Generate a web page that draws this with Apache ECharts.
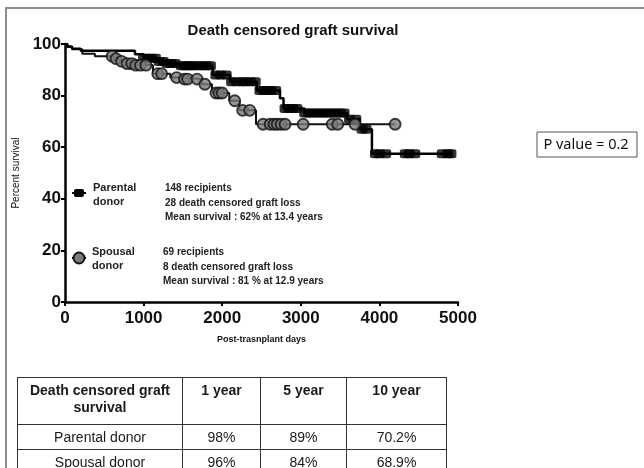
<!DOCTYPE html>
<html>
<head>
<meta charset="utf-8">
<script src="https://cdn.jsdelivr.net/npm/echarts@6/dist/echarts.min.js"></script>
<style>
    html, body { margin: 0; padding: 0; background: #fff; overflow: hidden; }
    #frame { position: absolute; left: 5px; top: 7px; width: 700px; height: 600px;
        border-left: 2px solid #8c8c8c; border-top: 2px solid #8c8c8c; }
    #chart { position: absolute; left: 0; top: 0; width: 644px; height: 468px; }
    #tbl { position: absolute; left: 17px; top: 377px; border-collapse: collapse;
        font-family: "Liberation Sans", Arial, sans-serif; font-size: 14px; color: #1a1a1a; }
    #tbl td, #tbl th { border: 1.5px solid #333; text-align: center; padding: 0; }
    #tbl th { font-weight: bold; height: 42px; vertical-align: top; padding-top: 4px; line-height: 17px; }
    #tbl td { height: 24px; }
</style>
</head>
<body>
<div id="frame"></div>
<div id="chart"></div>
<table id="tbl"></table>
<script>
// Kaplan-Meier steps (days, percent)
var parentalDays = [0, 30, 90, 200, 890, 1000, 1180, 1300, 1470, 1880, 2100, 2440, 2735, 2780, 3050, 3590, 3750, 3905, 4924];
var parentalSurv = [100, 99.0, 98.2, 97.4, 96.0, 94.5, 93.2, 92.4, 91.6, 88.0, 85.4, 82.0, 79.0, 75.0, 73.3, 70.8, 67.0, 57.5, 57.5];
var parentalCensor = [1000, 1050, 1100, 1150, 1200, 1250, 1300, 1350, 1400, 1480, 1520, 1560, 1600, 1640, 1700, 1750, 1800, 1850,
    1920, 1980, 2050, 2120, 2180, 2250, 2300, 2360, 2420, 2480, 2530, 2580, 2620, 2680, 2800, 2850, 2900, 2950, 3050, 3100,
    3150, 3200, 3250, 3300, 3350, 3400, 3450, 3500, 3550, 3620, 3700, 3780, 3830, 3950, 4000, 4080, 4330, 4380, 4450, 4800, 4870, 4910];

var spousalDays = [0, 30, 90, 220, 380, 620, 700, 780, 900, 1120, 1340, 1480, 1740, 1870, 2090, 2220, 2430, 4200];
var spousalSurv = [100, 98.8, 98.0, 96.2, 95.3, 94.3, 93.3, 92.4, 91.8, 88.5, 87.0, 86.4, 84.4, 81.0, 78.0, 74.3, 68.9, 68.9];
var spousalCensor = [600, 650, 720, 790, 850, 900, 960, 1030, 1180, 1230, 1420, 1520, 1560, 1680, 1780, 1920, 1960, 2000,
    2160, 2260, 2350, 2520, 2610, 2660, 2700, 2750, 2800, 3030, 3400, 3470, 3690, 4200];

var tableHeader = ["Death censored graft<br>survival", "1 year", "5 year", "10 year"];
var tableRows = [
    ["Parental donor", "98%", "89%", "70.2%"],
    ["Spousal donor", "96%", "84%", "68.9%"]
];

function pairs(xs, ys) {
    var out = [];
    for (var i = 0; i < xs.length; i++) out.push([xs[i], ys[i]]);
    return out;
}
// survival level of a step curve at time t
function survAt(xs, ys, t) {
    var v = ys[0];
    for (var i = 0; i < xs.length; i++) if (xs[i] <= t) v = ys[i];
    return v;
}
function censorPoints(days, xs, ys) {
    return days.map(function (d) { return [d, survAt(xs, ys, d)]; });
}

// table
var html = "<tr>";
var widths = [164, 77, 85, 99];
for (var c = 0; c < tableHeader.length; c++) {
    html += '<th style="width:' + widths[c] + 'px">' + tableHeader[c] + "</th>";
}
html += "</tr>";
for (var r = 0; r < tableRows.length; r++) {
    html += "<tr>";
    for (var c = 0; c < tableRows[r].length; c++) html += "<td>" + tableRows[r][c] + "</td>";
    html += "</tr>";
}
document.getElementById("tbl").innerHTML = html;

var chart = echarts.init(document.getElementById("chart"), null, {renderer: "canvas"});
var sans = "'Liberation Sans', Arial, sans-serif";

var option = {
    animation: false,
    title: {
        text: "Death censored graft survival",
        left: 288, top: 18, textAlign: "center",
        textStyle: {fontFamily: sans, fontSize: 15, fontWeight: "bold", color: "#111"}
    },
    grid: {left: 65, top: 44, width: 393, height: 258},
    xAxis: {
        type: "value", min: 0, max: 5000, interval: 1000,
        name: "Post-trasnplant days", nameLocation: "middle", nameGap: 33,
        nameTextStyle: {fontFamily: sans, fontSize: 9, fontWeight: "bold", color: "#111"},
        axisLine: {lineStyle: {color: "#000", width: 2.5}},
        axisTick: {length: 4, lineStyle: {color: "#000", width: 2}},
        axisLabel: {fontFamily: sans, fontSize: 17, fontWeight: "bold", color: "#111", margin: 8,
            formatter: function (v) { return String(v); }},
        splitLine: {show: false}
    },
    yAxis: {
        type: "value", min: 0, max: 100, interval: 20,
        name: "Percent survival", nameLocation: "middle", nameGap: 38, nameRotate: 90,
        nameTextStyle: {fontFamily: sans, fontSize: 10, color: "#111"},
        axisLine: {show: true, lineStyle: {color: "#000", width: 2.5}},
        axisTick: {show: true, length: 4, lineStyle: {color: "#000", width: 2}},
        axisLabel: {fontFamily: sans, fontSize: 17, fontWeight: "bold", color: "#111", margin: 4},
        splitLine: {show: false}
    },
    series: [
        {
            name: "Spousal donor", type: "line", step: "end", showSymbol: false,
            data: pairs(spousalDays, spousalSurv),
            lineStyle: {color: "#111", width: 2}, z: 2
        },
        {
            name: "Parental donor", type: "line", step: "end", showSymbol: false,
            data: pairs(parentalDays, parentalSurv),
            lineStyle: {color: "#000", width: 2.5}, z: 3
        },
        {
            name: "Parental censored", type: "scatter", symbol: "roundRect", symbolSize: [11, 9],
            data: censorPoints(parentalCensor, parentalDays, parentalSurv),
            itemStyle: {color: "#000"}, z: 4
        },
        {
            name: "Spousal censored", type: "scatter", symbol: "circle", symbolSize: 11,
            data: censorPoints(spousalCensor, spousalDays, spousalSurv),
            itemStyle: {color: "#7a7a7a", borderColor: "#111", borderWidth: 1.8}, z: 5
        }
    ],
    graphic: [
        // legend markers
        {type: "line", shape: {x1: 72, y1: 193, x2: 86, y2: 193}, style: {stroke: "#000", lineWidth: 2}},
        {type: "rect", shape: {x: 74, y: 189, width: 10, height: 8, r: 2}, style: {fill: "#000"}},
        {type: "line", shape: {x1: 72, y1: 258, x2: 86, y2: 258}, style: {stroke: "#000", lineWidth: 2}},
        {type: "circle", shape: {cx: 79, cy: 258, r: 5.5}, style: {fill: "#7a7a7a", stroke: "#111", lineWidth: 1.8}},
        // legend texts
        {type: "text", left: 93, top: 181, style: {text: "Parental\ndonor", font: "bold 11px " + sans, fill: "#222", lineHeight: 14}},
        {type: "text", left: 165, top: 181, style: {text: "148 recipients\n28 death censored graft loss\nMean survival : 62% at 13.4 years",
            font: "bold 10px " + sans, fill: "#222", lineHeight: 14.5}},
        {type: "text", left: 92, top: 245, style: {text: "Spousal\ndonor", font: "bold 11px " + sans, fill: "#222", lineHeight: 14}},
        {type: "text", left: 163, top: 245, style: {text: "69 recipients\n8 death censored graft loss\nMean survival : 81 % at 12.9 years",
            font: "bold 10px " + sans, fill: "#222", lineHeight: 14.5}},
        // P value box
        {type: "rect", shape: {x: 537, y: 132, width: 100, height: 25}, style: {fill: "#fff", stroke: "#555", lineWidth: 1}},
        {type: "text", x: 586, y: 145, style: {text: "P value = 0.2", font: "14.5px 'Noto Sans', sans-serif", fill: "#111",
            textAlign: "center", textVerticalAlign: "middle"}}
    ]
};
chart.setOption(option);
</script>
</body>
</html>
